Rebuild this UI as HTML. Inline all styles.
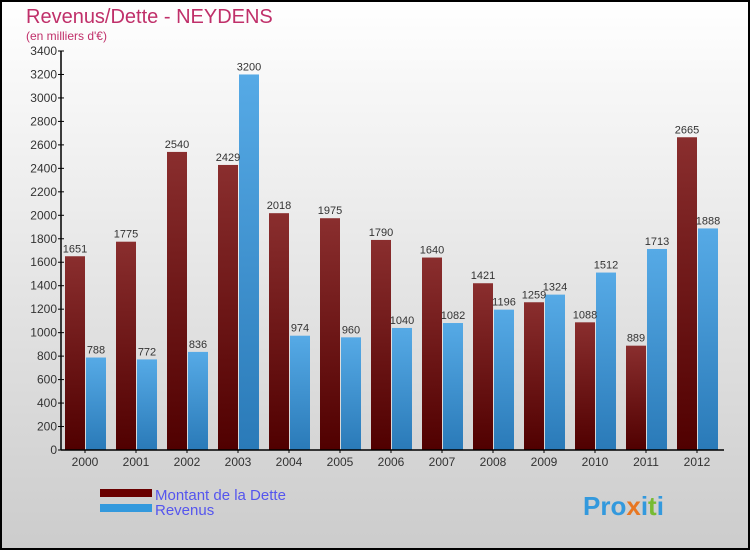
<!DOCTYPE html>
<html><head><meta charset="utf-8"><style>
body{margin:0}
#c{width:750px;height:550px;position:relative;overflow:hidden;font-family:"Liberation Sans",sans-serif}
</style></head><body>
<div id="c">
<svg width="750" height="550" id="svg">
<defs>
<linearGradient id="bg" x1="0" y1="0" x2="0" y2="1"><stop offset="0" stop-color="#ffffff"/><stop offset="1" stop-color="#cccccc"/></linearGradient>
<linearGradient id="gd" x1="0" y1="0" x2="0" y2="1"><stop offset="0" stop-color="#8a2e2e"/><stop offset="1" stop-color="#500000"/></linearGradient>
<linearGradient id="gr" x1="0" y1="0" x2="0" y2="1"><stop offset="0" stop-color="#56aae6"/><stop offset="1" stop-color="#2a7ab8"/></linearGradient>
</defs>
<rect x="1" y="1" width="748" height="548" fill="url(#bg)" stroke="#000" stroke-width="2"/>
<text x="26" y="23" font-size="20" fill="#c0306a">Revenus/Dette - NEYDENS</text>
<text x="26" y="40" font-size="12" fill="#c0306a">(en milliers d'€)</text>
<g id="bars"></g>
<g id="axes"></g>
<rect x="100" y="489" width="52" height="8" fill="#6a0000"/>
<text x="155" y="500" font-size="15" fill="#5555ee">Montant de la Dette</text>
<rect x="100" y="504" width="52" height="8" fill="#3399dd"/>
<text x="155" y="515" font-size="15" fill="#5555ee">Revenus</text>
<text x="583" y="515" font-size="26" font-weight="bold" fill="#3399dd">Pro<tspan fill="#e87722">x</tspan>i<tspan fill="#77bb33">t</tspan>i</text>
</svg>
</div>
<script>
const years=["2000","2001","2002","2003","2004","2005","2006","2007","2008","2009","2010","2011","2012"];
const dette=[1651,1775,2540,2429,2018,1975,1790,1640,1421,1259,1088,889,2665];
const revenus=[788,772,836,3200,974,960,1040,1082,1196,1324,1512,1713,1888];
const ticks=[0,200,400,600,800,1000,1200,1400,1600,1800,2000,2200,2400,2600,2800,3000,3200,3400];
const NS="http://www.w3.org/2000/svg";
const x0=61,y0=450,yTop=51,maxV=3400,gw=51;
function y(v){return y0-(v/maxV)*(y0-yTop);}
function gx(i){return x0+i*gw;}
function mk(t,a,p){const e=document.createElementNS(NS,t);for(const k in a)e.setAttribute(k,a[k]);p.appendChild(e);return e;}
const bars=document.getElementById('bars'),axes=document.getElementById('axes');
years.forEach((yr,i)=>{
  const xd=gx(i)+4,xr=gx(i)+25;
  const b1=mk('rect',{x:xd,y:y(dette[i]),width:20,height:y0-y(dette[i]),fill:'url(#gd)'},bars);
  
  
  const b2=mk('rect',{x:xr,y:y(revenus[i]),width:20,height:y0-y(revenus[i]),fill:'url(#gr)'},bars);
  
  
  const l1=mk('text',{x:xd+10,y:y(dette[i])-4,'font-size':11,'text-anchor':'middle',fill:'#333'},bars);l1.textContent=dette[i];
  
  
  const l2=mk('text',{x:xr+10,y:y(revenus[i])-4,'font-size':11,'text-anchor':'middle',fill:'#333'},bars);l2.textContent=revenus[i];
  
  
  const xl=mk('text',{x:gx(i)+24,y:466,'font-size':12,'text-anchor':'middle',fill:'#333'},axes);xl.textContent=yr;
  
  
  mk('line',{x1:gx(i)+24,x2:gx(i)+24,y1:y0,y2:y0+3,stroke:'#000'},axes);
});
ticks.forEach(t=>{
  mk('line',{x1:x0-3,x2:x0+3,y1:y(t),y2:y(t),stroke:'#000'},axes);
  const tl=mk('text',{x:x0-4,y:y(t)+4,'font-size':12,'text-anchor':'end',fill:'#333'},axes);tl.textContent=t;
  
  
});
const ya=mk('line',{x1:x0,x2:x0,y1:yTop,y2:y0,stroke:'#000','stroke-width':1.5},axes);


const xa=mk('line',{x1:x0,x2:x0+13*gw,y1:y0,y2:y0,stroke:'#000','stroke-width':1.5},axes);


</script>
</body></html>
